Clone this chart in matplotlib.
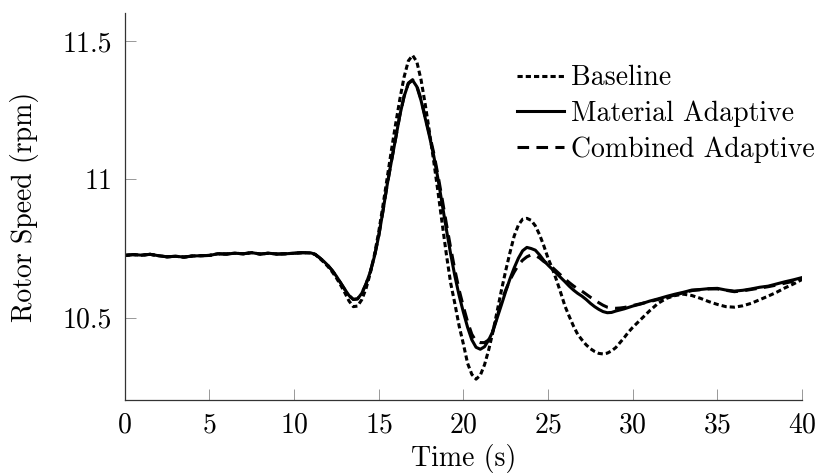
import numpy as np
import matplotlib
matplotlib.use("Agg")
import matplotlib.pyplot as plt
from matplotlib.ticker import FixedLocator, FixedFormatter

plt.rcParams["font.family"] = ["cmr10", "DejaVu Serif"]
plt.rcParams["mathtext.fontset"] = "cm"
plt.rcParams["axes.formatter.use_mathtext"] = True

# sample times (s): coarse on the steady part, finer through the transient
time = np.concatenate([np.arange(0, 11, 0.5),
                       np.arange(11, 30, 0.25),
                       np.arange(30, 40.01, 0.5)])

# steady operation before the disturbance (0 - 10.5 s), shared by all runs
steady = [10.725, 10.728, 10.726, 10.729, 10.724, 10.720, 10.722, 10.719,
          10.723, 10.724, 10.725, 10.731, 10.730, 10.733, 10.731, 10.735,
          10.730, 10.733, 10.730, 10.731, 10.733, 10.735]

baseline = steady + [
    10.734, 10.728, 10.715, 10.701,   # 11
    10.685, 10.666, 10.644, 10.618,   # 12
    10.590, 10.560, 10.540, 10.542,   # 13
    10.565, 10.605, 10.660, 10.728,   # 14
    10.810, 10.905, 11.005, 11.105,   # 15
    11.200, 11.290, 11.370, 11.428,   # 16
    11.448, 11.425, 11.360, 11.270,   # 17
    11.170, 11.065, 10.955, 10.840,   # 18
    10.727, 10.625, 10.550, 10.470,   # 19
    10.405, 10.335, 10.295, 10.278,   # 20
    10.292, 10.330, 10.385, 10.450,   # 21
    10.525, 10.600, 10.670, 10.735,   # 22
    10.795, 10.835, 10.856, 10.859,   # 23
    10.852, 10.832, 10.800, 10.760,   # 24
    10.715, 10.678, 10.636, 10.590,   # 25
    10.542, 10.505, 10.470, 10.440,   # 26
    10.420, 10.402, 10.388, 10.378,   # 27
    10.371, 10.369, 10.372, 10.380,   # 28
    10.392, 10.410, 10.428, 10.448,   # 29
    10.465, 10.495, 10.525, 10.552, 10.570, 10.580, 10.585, 10.580,
    10.570, 10.558, 10.548, 10.540, 10.538, 10.543, 10.552, 10.565,
    10.578, 10.592, 10.608, 10.622, 10.638]

material = steady + [
    10.734, 10.729, 10.717, 10.704,   # 11
    10.689, 10.671, 10.650, 10.626,   # 12
    10.602, 10.580, 10.566, 10.568,   # 13
    10.588, 10.622, 10.665, 10.722,   # 14
    10.795, 10.885, 10.980, 11.065,   # 15
    11.148, 11.232, 11.300, 11.346,   # 16
    11.358, 11.335, 11.285, 11.220,   # 17
    11.155, 11.085, 11.002, 10.910,   # 18
    10.818, 10.730, 10.650, 10.580,   # 19
    10.520, 10.465, 10.420, 10.393,   # 20
    10.386, 10.395, 10.420, 10.452,   # 21
    10.500, 10.547, 10.595, 10.640,   # 22
    10.680, 10.715, 10.742, 10.754,   # 23
    10.750, 10.744, 10.727, 10.707,   # 24
    10.690, 10.675, 10.660, 10.645,   # 25
    10.630, 10.614, 10.600, 10.588,   # 26
    10.578, 10.566, 10.552, 10.540,   # 27
    10.530, 10.522, 10.518, 10.519,   # 28
    10.524, 10.528, 10.532, 10.537,   # 29
    10.542, 10.550, 10.560, 10.568, 10.577, 10.585, 10.592, 10.600,
    10.602, 10.605, 10.606, 10.600, 10.596, 10.599, 10.604, 10.610,
    10.614, 10.622, 10.630, 10.637, 10.645]

combined = steady + [
    10.734, 10.729, 10.717, 10.704,   # 11
    10.689, 10.671, 10.650, 10.626,   # 12
    10.602, 10.580, 10.566, 10.568,   # 13
    10.588, 10.622, 10.665, 10.722,   # 14
    10.795, 10.885, 10.980, 11.065,   # 15
    11.148, 11.232, 11.300, 11.348,   # 16
    11.360, 11.338, 11.290, 11.225,   # 17
    11.162, 11.095, 11.015, 10.928,   # 18
    10.838, 10.752, 10.672, 10.600,   # 19
    10.540, 10.485, 10.440, 10.415,   # 20
    10.410, 10.410, 10.420, 10.455,   # 21
    10.505, 10.560, 10.600, 10.636,   # 22
    10.665, 10.690, 10.708, 10.720,   # 23
    10.727, 10.725, 10.716, 10.703,   # 24
    10.694, 10.682, 10.668, 10.654,   # 25
    10.640, 10.627, 10.615, 10.604,   # 26
    10.596, 10.585, 10.574, 10.564,   # 27
    10.554, 10.545, 10.538, 10.535,   # 28
    10.534, 10.535, 10.537, 10.540,   # 29
    10.544, 10.551, 10.558, 10.566, 10.574, 10.582, 10.590, 10.598,
    10.601, 10.604, 10.604, 10.599, 10.594, 10.597, 10.602, 10.607,
    10.612, 10.618, 10.625, 10.632, 10.640]

x_ticks = [0, 5, 10, 15, 20, 25, 30, 35, 40]
y_ticks = [10.5, 11.0, 11.5]
y_tick_labels = ["10.5", "11", "11.5"]
series_labels = ["Baseline", "Material Adaptive", "Combined Adaptive"]

fig = plt.figure(figsize=(8.21, 4.75), dpi=100)
ax = fig.add_axes([0.1519, 0.1579, 0.8250, 0.8147])

lw = 2.2
ax.plot(time, baseline, color="black", lw=lw, linestyle=(0, (1.7, 1.0)),
        dash_capstyle="butt", label=series_labels[0])
ax.plot(time, material, color="black", lw=lw, linestyle="-",
        label=series_labels[1])
ax.plot(time, combined, color="black", lw=lw, linestyle=(0, (3.8, 2.4)),
        dash_capstyle="butt", label=series_labels[2])

ax.set_xlim(0, 40)
ax.set_ylim(10.2026, 11.601)
ax.xaxis.set_major_locator(FixedLocator(x_ticks))
ax.yaxis.set_major_locator(FixedLocator(y_ticks))
ax.yaxis.set_major_formatter(FixedFormatter(y_tick_labels))

for side in ("top", "right"):
    ax.spines[side].set_visible(False)
for side in ("left", "bottom"):
    ax.spines[side].set_linewidth(0.9)
    ax.spines[side].set_color("#333333")

ax.tick_params(direction="in", length=8, width=0.6, color="#888888",
               labelsize=20, pad=9)

ax.set_xlabel("Time (s)", fontsize=20, labelpad=4)
ax.set_ylabel("Rotor Speed (rpm)", fontsize=20, labelpad=17)

leg = ax.legend(loc="upper left", bbox_to_anchor=(517 / 821, 1 - 65 / 475),
                bbox_transform=fig.transFigure, frameon=False, fontsize=20,
                handlelength=1.7, handletextpad=0.25, borderpad=0,
                borderaxespad=0, labelspacing=0.33)

fig.savefig("out.png", dpi=100, facecolor="white")
